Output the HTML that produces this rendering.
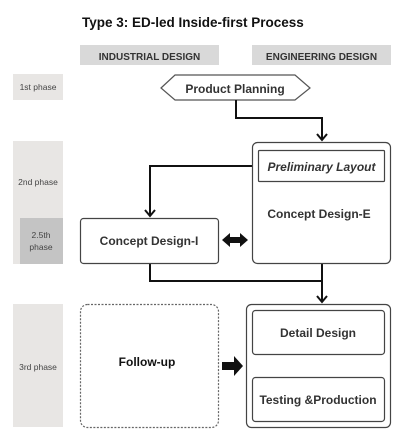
<!DOCTYPE html>
<html><head><meta charset="utf-8"><style>
body{margin:0;background:#fff;width:410px;height:441px;overflow:hidden}
svg{display:block}
text{font-family:"Liberation Sans","DejaVu Sans",sans-serif}
</style></head><body>
<svg width="410" height="441" viewBox="0 0 410 441" xmlns="http://www.w3.org/2000/svg">
<text x="82" y="27" font-size="13.5" font-weight="bold" fill="#111">Type 3: ED-led Inside-first Process</text>
<rect x="80" y="45" width="139" height="20" fill="#d9d9d9"/>
<rect x="252" y="45" width="139" height="20" fill="#d9d9d9"/>
<text x="149.5" y="60" font-size="10" font-weight="bold" text-anchor="middle" fill="#333">INDUSTRIAL DESIGN</text>
<text x="321.5" y="60" font-size="10" font-weight="bold" text-anchor="middle" fill="#333">ENGINEERING DESIGN</text>
<rect x="13" y="74" width="50" height="26" fill="#e8e6e4"/>
<text x="38" y="90" font-size="8.5" text-anchor="middle" fill="#444">1st phase</text>
<rect x="13" y="141" width="50" height="123" fill="#e8e6e4"/>
<rect x="20" y="218" width="43" height="46" fill="#c4c4c4"/>
<text x="38" y="185" font-size="8.5" text-anchor="middle" fill="#444">2nd phase</text>
<text x="41" y="238" font-size="8.5" text-anchor="middle" fill="#444">2.5th</text>
<text x="41" y="250" font-size="8.5" text-anchor="middle" fill="#444">phase</text>
<rect x="13" y="304" width="50" height="123" fill="#e8e6e4"/>
<text x="38" y="370" font-size="8.5" text-anchor="middle" fill="#444">3rd phase</text>
<polygon points="161,88 175,75 295,75 310,88 295,100 175,100" fill="#fff" stroke="#555" stroke-width="1.2"/>
<text x="235" y="93" font-size="12" font-weight="bold" text-anchor="middle" fill="#333">Product Planning</text>
<g fill="none" stroke="#111" stroke-width="2">
<polyline points="236,100 236,118 322,118 322,140"/>
<polyline points="317,134 322,140 327,134"/>
<polyline points="258,166 150,166 150,216"/>
<polyline points="145,210 150,216 155,210"/>
<polyline points="150,263 150,281 322,281"/>
<polyline points="322,263 322,302"/>
<polyline points="317,296 322,302 327,296"/>
<polyline points="318,354 318,375" stroke-width="1.6"/>
<polyline points="314,370 318,375 322,370" stroke-width="1.6"/>
</g>
<rect x="252.5" y="142.5" width="138" height="121" rx="5" fill="#fff" stroke="#444" stroke-width="1.2"/>
<rect x="258.5" y="150.5" width="126" height="31" rx="1" fill="#fff" stroke="#444" stroke-width="1.2"/>
<text x="321.5" y="171" font-size="12" font-weight="bold" font-style="italic" text-anchor="middle" fill="#333">Preliminary Layout</text>
<text x="319" y="218" font-size="12" font-weight="bold" text-anchor="middle" fill="#333">Concept Design-E</text>
<rect x="80.5" y="218.5" width="138" height="45" rx="3" fill="#fff" stroke="#444" stroke-width="1.2"/>
<text x="149" y="245" font-size="12" font-weight="bold" text-anchor="middle" fill="#333">Concept Design-I</text>
<polygon points="222,240 230,233 230,237 240,237 240,233 248,240 240,247 240,243 230,243 230,247" fill="#111"/>
<rect x="80.5" y="304.5" width="138" height="123" rx="7" fill="#fff" stroke="#666" stroke-width="1.2" stroke-dasharray="2,1.5"/>
<text x="147" y="366" font-size="12" font-weight="bold" text-anchor="middle" fill="#111">Follow-up</text>
<polygon points="222,362 234,362 234,356 243,366 234,376 234,370 222,370" fill="#111"/>
<rect x="246.5" y="304.5" width="144" height="123" rx="5" fill="#fff" stroke="#444" stroke-width="1.2"/>
<rect x="252.5" y="310.5" width="132" height="44" rx="3" fill="#fff" stroke="#444" stroke-width="1.2"/>
<text x="318" y="337" font-size="12" font-weight="bold" text-anchor="middle" fill="#333">Detail Design</text>
<rect x="252.5" y="377.5" width="132" height="44" rx="3" fill="#fff" stroke="#444" stroke-width="1.2"/>
<text x="318" y="404" font-size="12" font-weight="bold" text-anchor="middle" fill="#333">Testing &amp;Production</text>
</svg>
</body></html>
